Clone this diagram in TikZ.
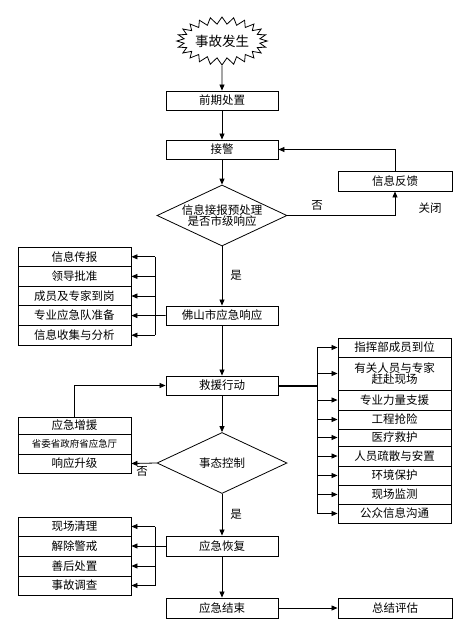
\documentclass[tikz,border=0pt]{standalone}
\usepackage{fontspec}
\newfontfamily\cjk{Noto Sans CJK SC}
\usepackage{tikz}
\usetikzlibrary{arrows.meta,shapes.geometric,shapes.symbols,positioning}

\tikzset{
	box/.style={draw, line width=0.9pt, minimum width=112pt, minimum height=19pt, inner sep=0pt, font=\cjk\fontsize{11.5}{13}\selectfont},
	lbox/.style={box, minimum width=113pt},
	decide/.style={draw, line width=0.8pt, diamond, aspect=2.1, minimum width=130pt, minimum height=61pt, inner sep=0pt, align=center, font=\cjk\fontsize{11.5}{13}\selectfont},
	arr/.style={line width=0.8pt, -{Triangle[length=6pt,width=5pt]}},
	lab/.style={font=\cjk\fontsize{11.5}{13}\selectfont}
}

\begin{document}
\begin{tikzpicture}[x=1pt,y=-1pt]
		\useasboundingbox (0,0) rectangle (469,638);
		% main column
		\node[draw, line width=0.8pt, starburst, starburst points=24, starburst point height=7pt, random starburst=0, minimum width=86pt, minimum height=48pt, inner sep=0pt, font=\cjk\fontsize{13.5}{15}\selectfont] (start) at (222,41) {事故发生};
		\node[box] (pre) at (222,100.5) {前期处置};
		\node[box] (alarm) at (222,149.5) {接警};
		\node[decide] (judge) at (222,215.5) {信息接报预处理\\[-2pt]是否市级响应};
		\node[box, minimum width=114pt, minimum height=20pt] (feedback) at (395,181) {信息反馈};
		\node[box] (city) at (222,315.5) {佛山市应急响应};
		\node[box] (rescue) at (222,385.5) {救援行动};
		\node[decide] (ctrl) at (222,463) {事态控制};
		\node[box, minimum height=20pt] (recover) at (222,546) {应急恢复};
		\node[box, minimum height=20pt] (finish) at (222,608) {应急结束};
		\node[box, minimum width=114pt, minimum height=20pt] (summary) at (395,608) {总结评估};
		% left list after city response
		\node[lbox, minimum height=19.6pt] (c1) at (74.5,256.8) {信息传报};
		\node[lbox, minimum height=19.6pt] (c2) at (74.5,276.4) {领导批准};
		\node[lbox, minimum height=19.6pt] (c3) at (74.5,296) {成员及专家到岗};
		\node[lbox, minimum height=19.6pt] (c4) at (74.5,315.6) {专业应急队准备};
		\node[lbox, minimum height=19.6pt] (c5) at (74.5,335.2) {信息收集与分析};
		% right list of rescue
		\node[lbox] (r1) at (394.5,347.5) {指挥部成员到位};
		\node[lbox, minimum height=33pt, align=center] (r2) at (394.5,373.5) {有关人员与专家\\[-2pt]赶赴现场};
		\node[lbox, minimum height=20pt] (r3) at (394.5,400) {专业力量支援};
		\node[lbox] (r4) at (394.5,419.5) {工程抢险};
		\node[lbox, minimum height=17pt] (r5) at (394.5,437.5) {医疗救护};
		\node[lbox, minimum height=20pt] (r6) at (394.5,456) {人员疏散与安置};
		\node[lbox] (r7) at (394.5,475.5) {环境保护};
		\node[lbox] (r8) at (394.5,494.5) {现场监测};
		\node[lbox] (r9) at (394.5,513.5) {公众信息沟通};
		% upgrade group
		\node[lbox, minimum height=17pt] (u1) at (74.5,425.5) {应急增援};
		\node[lbox, minimum height=20pt, font=\cjk\fontsize{9.5}{11}\selectfont] (u2) at (74.5,444) {省委省政府省应急厅};
		\node[lbox] (u3) at (74.5,463.5) {响应升级};
		% left list after recovery
		\node[lbox] (e1) at (74.5,526.5) {现场清理};
		\node[lbox, minimum height=20pt] (e2) at (74.5,546) {解除警戒};
		\node[lbox, minimum height=20pt] (e3) at (74.5,566) {善后处置};
		\node[lbox] (e4) at (74.5,585.5) {事故调查};
		% bars
		\coordinate (lbar) at (155,0);
		\coordinate (rbar) at (317,0);
		% connectors
		\draw[arr] (start) -- (pre);
		\draw[arr] (pre) -- (alarm);
		\draw[arr] (alarm) -- (judge);
		\draw[arr] (judge.east) -| (feedback.south);
		\draw[arr] (feedback.north) |- (alarm.east);
		\draw[arr] (judge) -- (city);
		\draw[arr] (city) -- (rescue);
		\draw[arr] (rescue) -- (ctrl);
		\draw[arr] (ctrl) -- (recover);
		\draw[arr] (recover) -- (finish);
		\draw[arr] (finish) -- (summary);
		\draw[arr] (city.west) -- (c4.east);
		\draw[line width=0.8pt] (c1.east -| lbar) -- (c5.east -| lbar);
		\foreach \n in {c1,c2,c3,c5}
			\draw[arr] (\n.east -| lbar) -- (\n.east);
		\draw[line width=2pt] (rescue.east) -- (rescue.east -| rbar);
		\draw[line width=0.8pt] (r1.west -| rbar) -- (r9.west -| rbar);
		\foreach \n in {r1,r2,r3,r4,r5,r6,r7,r8,r9}
			\draw[arr] (\n.west -| rbar) -- (\n.west);
		\draw[arr] (u1.north) |- (rescue.west);
		\draw[arr] (ctrl.west) -- (u3.east);
		\draw[arr] (recover.west) -- (e2.east);
		\draw[line width=0.8pt] (e1.east -| lbar) -- (e4.east -| lbar);
		\foreach \n in {e1,e3,e4}
			\draw[arr] (\n.east -| lbar) -- (\n.east);
		% labels
		\node[lab] (yes1) at (236,275) {是};
		\node[lab] (yes2) at (236,514) {是};
		\node[lab] (no1) at (317,205) {否};
		\node[lab] (no2) at (142,471) {否};
		\node[lab] (close) at (430,208) {关闭};
		\end{tikzpicture}
\end{document}
